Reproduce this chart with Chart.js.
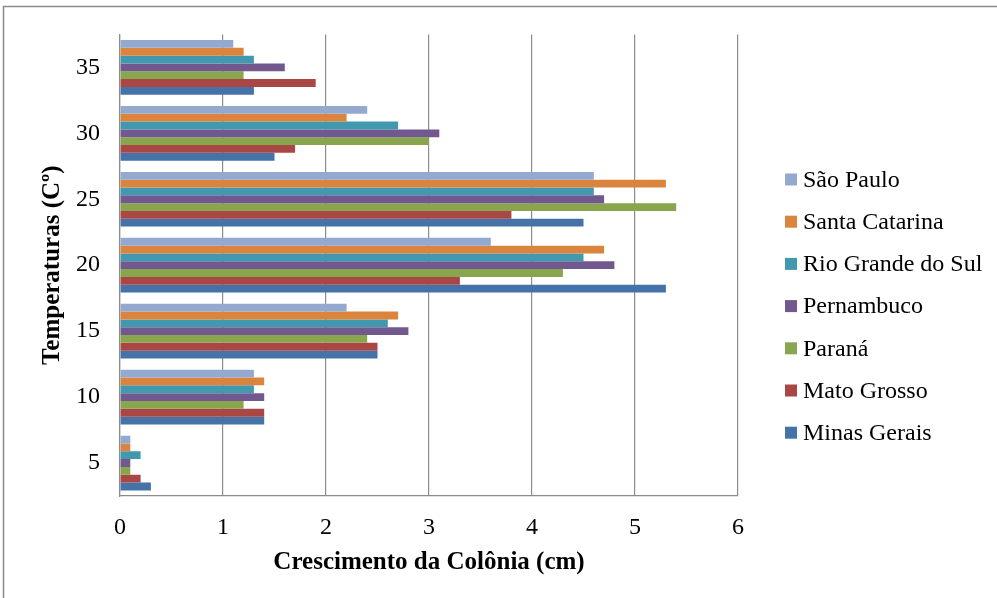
<!DOCTYPE html>
<html>
<head>
<meta charset="utf-8">
<script src="https://cdn.jsdelivr.net/npm/chart.js@4/dist/chart.umd.min.js"></script>
<style>
  html, body { margin: 0; padding: 0; background: #fff; }
  #wrap { width: 997px; height: 598px; position: relative; }
</style>
</head>
<body>
<div id="wrap"><canvas id="c" width="997" height="598"></canvas></div>
<script>
// Temperatures (°C) on the category axis
const temperaturas = ['5', '10', '15', '20', '25', '30', '35'];

// Colony growth (cm) per state, one value per temperature
const saoPaulo       = [0.1, 1.3, 2.2, 3.6, 4.6, 2.4, 1.1];
const santaCatarina  = [0.1, 1.4, 2.7, 4.7, 5.3, 2.2, 1.2];
const rioGrandeDoSul = [0.2, 1.3, 2.6, 4.5, 4.6, 2.7, 1.3];
const pernambuco     = [0.1, 1.4, 2.8, 4.8, 4.7, 3.1, 1.6];
const parana         = [0.1, 1.2, 2.4, 4.3, 5.4, 3.0, 1.2];
const matoGrosso     = [0.2, 1.4, 2.5, 3.3, 3.8, 1.7, 1.9];
const minasGerais    = [0.3, 1.4, 2.5, 5.3, 4.5, 1.5, 1.3];

const xTicks = [0, 1, 2, 3, 4, 5, 6];

const series = [
  { label: 'São Paulo',          data: saoPaulo,       color: '#93A9CF' },
  { label: 'Santa Catarina',     data: santaCatarina,  color: '#DB843D' },
  { label: 'Rio Grande do Sul',  data: rioGrandeDoSul, color: '#4198AF' },
  { label: 'Pernambuco',         data: pernambuco,     color: '#71588F' },
  { label: 'Paraná',             data: parana,         color: '#89A54E' },
  { label: 'Mato Grosso',        data: matoGrosso,     color: '#AA4643' },
  { label: 'Minas Gerais',       data: minasGerais,    color: '#4572A7' }
];

const SERIF = '"Liberation Serif", "DejaVu Serif", serif';

// Outer frame of the chart object
const framePlugin = {
  id: 'frame',
  beforeDraw(chart) {
    const ctx = chart.ctx;
    ctx.save();
    ctx.fillStyle = '#fff';
    ctx.fillRect(0, 0, chart.width, chart.height);
    ctx.strokeStyle = '#8a8a8a';
    ctx.lineWidth = 1.5;
    ctx.strokeRect(3.5, 6.5, chart.width + 10, chart.height + 10);
    ctx.restore();
  }
};

// Vertical legend on the right, drawn from the datasets
const sideLegend = {
  id: 'sideLegend',
  afterDraw(chart) {
    const ctx = chart.ctx;
    const boxX = 785, textX = 803, firstY = 179.5, step = 42.2, box = 12;
    ctx.save();
    ctx.font = '24px ' + SERIF;
    ctx.textBaseline = 'middle';
    ctx.textAlign = 'left';
    chart.data.datasets.forEach((ds, i) => {
      const cy = firstY + i * step;
      ctx.fillStyle = ds.backgroundColor;
      ctx.fillRect(boxX, cy - box / 2, box, box);
      ctx.fillStyle = '#000';
      ctx.fillText(ds.label, textX, cy + 1);
    });
    ctx.restore();
  }
};

new Chart(document.getElementById('c'), {
  type: 'bar',
  data: {
    labels: temperaturas,
    datasets: series.map(s => ({
      label: s.label,
      data: s.data,
      backgroundColor: s.color,
      borderWidth: 0,
      categoryPercentage: 0.83,
      barPercentage: 1.0
    }))
  },
  options: {
    indexAxis: 'y',
    responsive: false,
    animation: false,
    devicePixelRatio: 1,
    layout: { padding: { top: 33, right: 259, left: 0, bottom: 0 } },
    plugins: {
      legend: { display: false },
      tooltip: { enabled: false }
    },
    scales: {
      x: {
        min: 0,
        max: 6,
        afterFit(scale) { scale.height = 102; },
        afterBuildTicks(scale) { scale.ticks = xTicks.map(v => ({ value: v })); },
        grid: { color: '#8c8c8c', lineWidth: 1.2, drawTicks: false },
        border: { color: '#8c8c8c', width: 1.2 },
        ticks: { color: '#000', padding: 17, font: { family: SERIF, size: 24 } },
        title: {
          display: true,
          text: 'Crescimento da Colônia (cm)',
          color: '#000',
          font: { family: SERIF, size: 25, weight: 'bold' },
          padding: { top: 0, bottom: 20 }
        }
      },
      y: {
        reverse: true,
        afterFit(scale) { scale.width = 120; },
        grid: { display: false, drawTicks: false },
        border: { display: true, color: '#8c8c8c', width: 1.2 },
        ticks: { color: '#000', padding: 20, font: { family: SERIF, size: 24 } },
        title: {
          display: true,
          text: 'Temperaturas (Cº)',
          color: '#000',
          font: { family: SERIF, size: 25, weight: 'bold' },
          padding: { top: 38, bottom: 0 }
        }
      }
    }
  },
  plugins: [framePlugin, sideLegend]
});
</script>
</body>
</html>
